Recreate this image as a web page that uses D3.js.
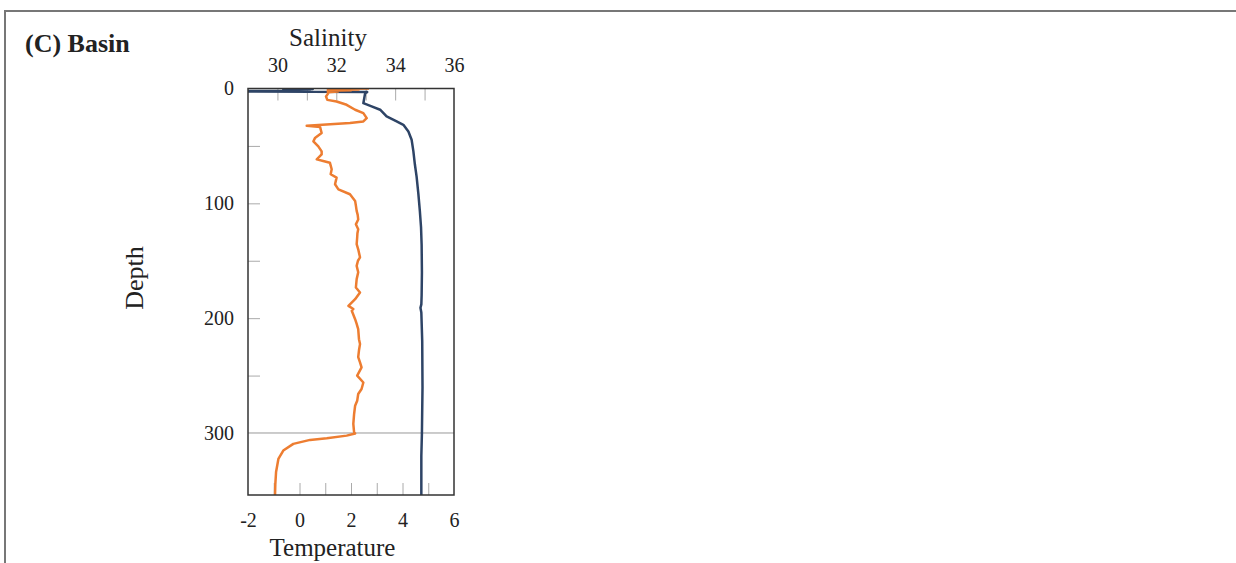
<!DOCTYPE html>
<html>
<head>
<meta charset="utf-8">
<script src="https://cdn.jsdelivr.net/npm/d3@7/dist/d3.min.js"></script>
<style>
  html, body { margin: 0; padding: 0; background: #fff; }
  svg { display: block; }
  text { font-family: "Liberation Serif", "Times New Roman", serif; fill: #222; }
</style>
</head>
<body>
<svg id="chart" width="1236" height="563"></svg>
<script>
// ---- Data ----
const panelTitle = "(C) Basin";
const temperatureLabel = "Temperature";
const salinityLabel = "Salinity";
const depthLabel = "Depth";

const tempDepth = [0, 0.4, 0.8, 1.2, 1.6, 2.0, 2.6, 3.2, 4, 7, 9.9, 11.3, 14.2, 18.5, 21.4, 25.8, 28.7, 30.1, 32.5, 33.6, 38.8, 43.2, 46, 50.4, 54.8, 57.4, 61.7, 63.1, 64.6, 70.3, 74.7, 77.6, 83.4, 87.8, 92.1, 97.9, 102, 106.6, 110, 114, 118.3, 122.6, 126, 129.8, 135.6, 140, 147, 150, 154.5, 160, 166, 173.3, 177.7, 183.5, 189.3, 192, 193.6, 200.9, 205, 209.6, 218.3, 222.6, 228, 234, 238.5, 242.8, 250, 256, 261.7, 266, 272, 276.3, 283.5, 292, 299.4, 300.5, 302.3, 304.6, 306, 309.5, 315.3, 322.6, 334, 345, 354];
const tempValues = [2.7, 1.1, 2.3, 1.2, 2.0, 1.1, 1.5, 1.1, 1.12, 1.03, 1.08, 1.44, 1.83, 2.16, 2.48, 2.61, 2.48, 1.96, 0.28, 0.80, 0.86, 0.60, 0.54, 0.73, 0.86, 0.86, 0.67, 0.92, 1.18, 1.25, 1.21, 1.44, 1.38, 1.51, 1.96, 2.16, 2.19, 2.22, 2.26, 2.28, 2.19, 2.28, 2.25, 2.24, 2.22, 2.28, 2.35, 2.27, 2.22, 2.28, 2.22, 2.19, 2.35, 2.16, 1.90, 2.09, 2.03, 2.16, 2.22, 2.28, 2.31, 2.35, 2.31, 2.28, 2.35, 2.41, 2.24, 2.48, 2.41, 2.28, 2.24, 2.16, 2.12, 2.09, 2.12, 2.16, 1.83, 1.06, 0.41, -0.24, -0.63, -0.82, -0.91, -0.94, -0.95];

const salDepth = [0, 0.4, 0.8, 1.2, 1.6, 2.0, 2.5, 3.1, 4, 12.8, 15.6, 18.5, 24.3, 28.7, 31.6, 37.4, 44.6, 54.8, 66, 77, 92, 106.7, 121, 136, 160, 180, 188, 191, 195, 220, 260, 300, 320, 354];
const salValues = [30.6, 31.2, 30.2, 31.1, 30.3, 31.0, 27.5, 33.05, 32.98, 32.92, 33.20, 33.49, 33.71, 34.05, 34.28, 34.45, 34.56, 34.62, 34.67, 34.73, 34.79, 34.84, 34.88, 34.90, 34.91, 34.90, 34.89, 34.86, 34.89, 34.92, 34.93, 34.91, 34.89, 34.89];

const tempLabelTicks = [-2, 0, 2, 4, 6];
const tempMinorTicks = [-1, 0, 1, 2, 3, 4, 5];
const salLabelTicks = [30, 32, 34, 36];
const salMinorTicks = [30, 31, 32, 33, 34, 35];
const depthLabelTicks = [0, 100, 200, 300];
const depthMinorTicks = [50, 100, 150, 200, 250];
const depthRefLine = [300];

// ---- Layout ----
const svg = d3.select("#chart");
const plot = { left: 248, right: 454, top: 88.5, bottom: 495 };

const xT = d3.scaleLinear().domain([-2, 6]).range([plot.left, plot.right]);
const xS = d3.scaleLinear().domain([29, 36]).range([plot.left, plot.right]);
const y = d3.scaleLinear().domain([0, 354]).range([plot.top, plot.bottom]);

// outer frame (partially visible)
svg.append("path")
  .attr("d", `M5,563 L5,11 L1236,11`)
  .attr("fill", "none").attr("stroke", "#777").attr("stroke-width", 2);

// title
svg.append("text").attr("x", 25).attr("y", 52)
  .attr("font-size", 26).attr("font-weight", "bold").attr("fill", "#111")
  .text(panelTitle);

// clip
svg.append("defs").append("clipPath").attr("id", "plotclip")
  .append("rect").attr("x", plot.left).attr("y", plot.top)
  .attr("width", plot.right - plot.left).attr("height", plot.bottom - plot.top);

// inner ticks
const tickColor = "#aaa";
const gBot = svg.append("g").attr("transform", `translate(0,${plot.bottom})`)
  .call(d3.axisBottom(xT).tickValues(tempMinorTicks).tickSize(-12).tickFormat(""));
const gTop = svg.append("g").attr("transform", `translate(0,${plot.top})`)
  .call(d3.axisTop(xS).tickValues(salMinorTicks).tickSize(-12).tickFormat(""));
const gLeft = svg.append("g").attr("transform", `translate(${plot.left},0)`)
  .call(d3.axisLeft(y).tickValues(depthMinorTicks).tickSize(-12).tickFormat(""));
[gBot, gTop, gLeft].forEach(g => {
  g.select(".domain").remove();
  g.selectAll("line").attr("stroke", tickColor).attr("stroke-width", 1);
});

// reference line at 300
svg.selectAll(".refline").data(depthRefLine).enter().append("line")
  .attr("class", "refline")
  .attr("x1", plot.left).attr("x2", plot.right)
  .attr("y1", d => y(d)).attr("y2", d => y(d))
  .attr("stroke", "#999").attr("stroke-width", 1);

// tick labels
const intFmt = d => (d < 0 ? "-" + Math.abs(d) : String(d));
const lblBot = svg.append("g").attr("transform", `translate(0,${plot.bottom})`)
  .call(d3.axisBottom(xT).tickValues(tempLabelTicks).tickSize(0).tickPadding(18).tickFormat(intFmt));
const lblTop = svg.append("g").attr("transform", `translate(0,${plot.top})`)
  .call(d3.axisTop(xS).tickValues(salLabelTicks).tickSize(0).tickPadding(17).tickFormat(intFmt));
const lblLeft = svg.append("g").attr("transform", `translate(${plot.left},0)`)
  .call(d3.axisLeft(y).tickValues(depthLabelTicks).tickSize(0).tickPadding(14).tickFormat(intFmt));
[lblBot, lblTop, lblLeft].forEach(g => {
  g.select(".domain").remove();
  g.selectAll("text").attr("font-size", 20).attr("fill", "#222")
    .attr("font-family", "'Liberation Serif', 'Times New Roman', serif");
});

// data lines
const lineT = d3.line().x(d => xT(d[1])).y(d => y(d[0]));
const lineS = d3.line().x(d => xS(d[1])).y(d => y(d[0]));
const tData = tempDepth.map((d, i) => [d, tempValues[i]]);
const sData = salDepth.map((d, i) => [d, salValues[i]]);

const gData = svg.append("g").attr("clip-path", "url(#plotclip)");
gData.append("path").datum(sData).attr("d", lineS)
  .attr("fill", "none").attr("stroke", "#2E4466").attr("stroke-width", 2.5)
  .attr("stroke-linejoin", "round");
gData.append("path").datum(tData).attr("d", lineT)
  .attr("fill", "none").attr("stroke", "#ED7D31").attr("stroke-width", 2.5)
  .attr("stroke-linejoin", "round");

// plot frame
svg.append("rect").attr("x", plot.left).attr("y", plot.top)
  .attr("width", plot.right - plot.left).attr("height", plot.bottom - plot.top)
  .attr("fill", "none").attr("stroke", "#333").attr("stroke-width", 1.5);

// axis titles
svg.append("text").attr("x", 328).attr("y", 46).attr("text-anchor", "middle")
  .attr("font-size", 25).text(salinityLabel);
svg.append("text").attr("x", 332.5).attr("y", 556).attr("text-anchor", "middle")
  .attr("font-size", 25).text(temperatureLabel);
svg.append("text").attr("transform", "translate(143,278) rotate(-90)")
  .attr("text-anchor", "middle").attr("font-size", 26).text(depthLabel);
</script>
</body>
</html>
